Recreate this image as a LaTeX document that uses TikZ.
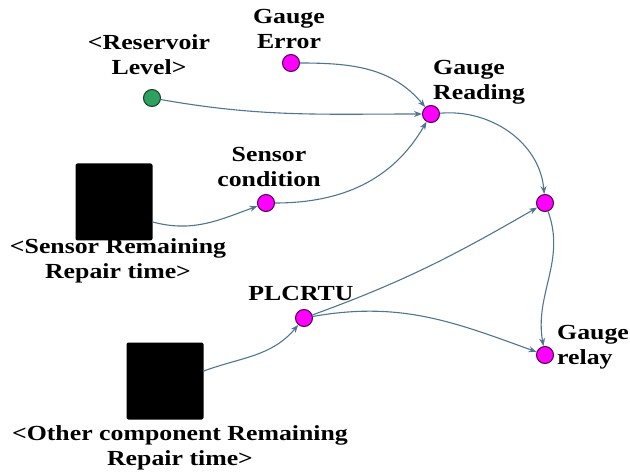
\documentclass[tikz,border=0pt]{standalone}
\usepackage{fontspec}
\setmainfont[FakeStretch=1.2]{Liberation Serif}
\usetikzlibrary{arrows.meta}
\definecolor{arr}{HTML}{4F7590}
\definecolor{mag}{HTML}{FF00FF}
\definecolor{magb}{HTML}{4A0050}
\definecolor{grn}{HTML}{2FA060}
\definecolor{grnb}{HTML}{104020}
\begin{document}
\begin{tikzpicture}[x=1pt,y=-1pt,
  var/.style={circle,draw=magb,fill=mag,line width=1pt,minimum size=17pt,inner sep=0pt},
  shadowvar/.style={circle,draw=grnb,fill=grn,line width=1pt,minimum size=17pt,inner sep=0pt},
  blk/.style={fill=black,rounded corners=2pt,minimum size=77pt,inner sep=0pt},
  lbl/.style={font=\fontsize{21.5}{25}\selectfont\bfseries,align=center,inner sep=0pt},
  lbll/.style={font=\fontsize{21.5}{25}\selectfont\bfseries,align=left,inner sep=0pt},
  link/.style={draw=arr,line width=1.1pt,-{Stealth[length=8pt,width=6pt]}}]
\useasboundingbox (0,0) rectangle (630,476);
% nodes
\node[shadowvar] (res) at (152,98) {};
\node[var] (gerr) at (291,63) {};
\node[var] (gread) at (431,114) {};
\node[var] (scond) at (266,203) {};
\node[var] (mid) at (545,203) {};
\node[var] (plc) at (304,318) {};
\node[var] (relay) at (545,355) {};
\node[blk] (ssq) at (114,202) {};
\node[blk] (osq) at (165,381) {};
% labels
\node[lbl] (tres) at (149,55) {<Reservoir\\Level>};
\node[lbl] (terr) at (289,29) {Gauge\\Error};
\node[lbll,anchor=west] (tread) at (433,82) {Gauge\\Reading};
\node[lbl] (tcond) at (269,167) {Sensor\\condition};
\node[lbl] (tssq) at (118,261) {<Sensor Remaining\\Repair time>};
\node[lbl] (tplc) at (301,293) {PLCRTU};
\node[lbll,anchor=west] (trel) at (557,347) {Gauge\\relay};
\node[lbl] (tosq) at (180,448) {<Other component Remaining\\Repair time>};
% links
\draw[link] (res) to[out=-10,in=180] (gread);
\draw[link] (gerr) to[out=0,in=130] (gread);
\draw[link] (scond) to[out=0,in=-120] (gread);
\draw[link] (ssq.east) ++(0,20) coordinate (s1) (s1) to[out=-15,in=200] (scond);
\draw[link] (gread) to[out=5,in=95] (mid);
\draw[link] (plc) to[out=20,in=-150] (mid);
\draw[link] (plc) to[out=10,in=160] (relay);
\draw[link] (mid) to[out=-70,in=100] (relay);
\draw[link] (osq.east) ++(0,-10) coordinate (o1) (o1) to[out=20,in=-130] (plc);
\end{tikzpicture}
\end{document}
